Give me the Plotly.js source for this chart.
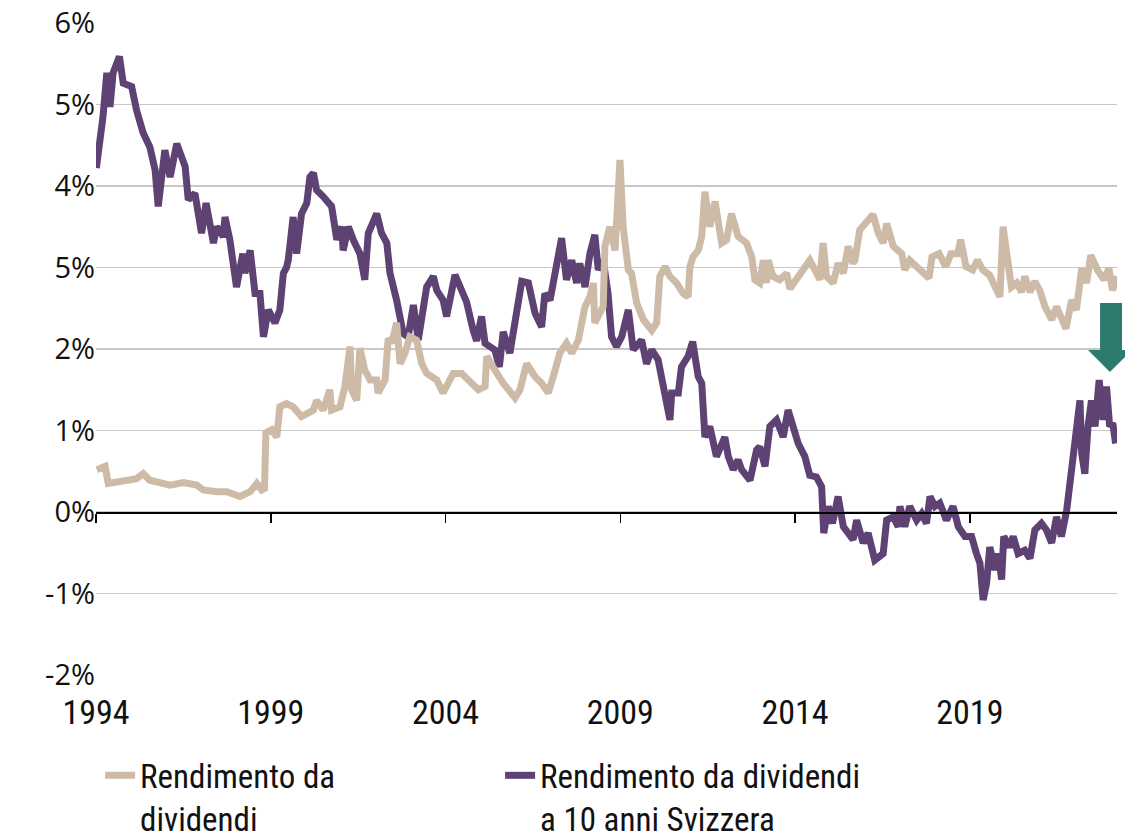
<!DOCTYPE html>
<html>
<head>
<meta charset="utf-8">
<script src="https://cdn.plot.ly/plotly-3.0.1.min.js"></script>
<style>
  html, body { margin: 0; padding: 0; background: #ffffff; }
  #chart { width: 1125px; height: 839px; }
</style>
</head>
<body>
<div id="chart"></div>
<script>
// ---- Data (decimal years, percent) ----
const bondYears = [1994.01,1994.09,1994.20,1994.31,1994.40,1994.49,1994.67,1994.78,1995.02,1995.16,1995.35,1995.54,1995.69,1995.78,1995.97,1996.12,1996.31,1996.55,1996.64,1996.83,1997.02,1997.15,1997.36,1997.45,1997.64,1997.69,1997.83,1998.02,1998.20,1998.26,1998.41,1998.55,1998.69,1998.79,1998.93,1999.12,1999.26,1999.36,1999.45,1999.50,1999.64,1999.74,1999.88,2000.03,2000.12,2000.22,2000.31,2000.50,2000.74,2000.89,2001.03,2001.07,2001.22,2001.36,2001.55,2001.69,2001.79,2002.03,2002.17,2002.32,2002.41,2002.60,2002.79,2002.93,2003.08,2003.22,2003.32,2003.46,2003.65,2003.75,2003.93,2004.03,2004.27,2004.41,2004.60,2004.79,2004.89,2005.03,2005.13,2005.27,2005.41,2005.54,2005.65,2005.84,2005.99,2006.18,2006.37,2006.56,2006.75,2006.84,2006.99,2007.13,2007.32,2007.46,2007.61,2007.75,2007.84,2007.99,2008.13,2008.27,2008.37,2008.51,2008.65,2008.75,2008.89,2009.04,2009.23,2009.37,2009.61,2009.75,2009.90,2010.08,2010.23,2010.42,2010.47,2010.66,2010.75,2010.94,2011.07,2011.23,2011.33,2011.42,2011.56,2011.75,2011.99,2012.09,2012.23,2012.37,2012.47,2012.71,2012.90,2012.99,2013.14,2013.28,2013.47,2013.66,2013.80,2013.95,2014.09,2014.28,2014.42,2014.61,2014.76,2014.82,2014.95,2015.07,2015.23,2015.38,2015.52,2015.66,2015.76,2015.95,2016.09,2016.28,2016.52,2016.62,2016.81,2016.95,2017.00,2017.14,2017.28,2017.48,2017.62,2017.76,2017.86,2018.00,2018.14,2018.33,2018.52,2018.67,2018.86,2019.05,2019.19,2019.29,2019.38,2019.48,2019.57,2019.72,2019.81,2019.91,2019.97,2020.14,2020.24,2020.38,2020.57,2020.72,2020.86,2021.05,2021.19,2021.34,2021.48,2021.62,2021.77,2021.86,2021.96,2022.05,2022.15,2022.20,2022.29,2022.38,2022.48,2022.58,2022.70,2022.81,2022.91,2023.00,2023.09,2023.17];
const bondYield = [4.22,4.48,4.85,5.39,4.97,5.39,5.59,5.26,5.22,4.93,4.65,4.48,4.20,3.75,4.44,4.11,4.52,4.24,3.83,3.91,3.42,3.79,3.30,3.50,3.38,3.62,3.34,2.76,3.17,2.93,3.21,2.68,2.68,2.15,2.48,2.32,2.48,2.93,3.00,3.09,3.62,3.17,3.66,3.79,4.11,4.16,3.95,3.87,3.75,3.34,3.50,3.21,3.50,3.34,3.17,2.85,3.42,3.66,3.42,3.30,2.93,2.60,2.19,2.15,2.54,2.11,2.36,2.76,2.89,2.72,2.60,2.40,2.91,2.76,2.58,2.23,2.10,2.40,2.07,2.03,1.99,1.78,2.21,1.95,2.40,2.83,2.81,2.44,2.27,2.68,2.60,2.89,3.36,2.85,3.09,2.81,3.05,2.76,3.17,3.40,2.97,3.09,2.68,2.15,2.03,2.15,2.48,1.99,2.11,1.82,1.99,1.87,1.50,1.13,1.46,1.46,1.78,1.91,2.09,1.66,1.58,0.92,1.05,0.68,0.92,0.68,0.52,0.64,0.52,0.39,0.76,0.80,0.56,1.05,1.13,0.92,1.25,1.05,0.84,0.68,0.45,0.43,0.31,-0.26,0.07,-0.14,0.19,-0.18,-0.26,-0.34,-0.10,-0.38,-0.26,-0.59,-0.51,-0.10,-0.06,-0.18,0.07,-0.18,0.07,-0.10,-0.02,-0.14,0.19,0.07,0.11,-0.10,0.07,-0.18,-0.30,-0.30,-0.51,-0.63,-1.08,-0.87,-0.43,-0.71,-0.51,-0.83,-0.30,-0.43,-0.30,-0.51,-0.47,-0.57,-0.22,-0.14,-0.22,-0.38,-0.06,-0.30,0.02,0.35,0.64,1.01,1.37,0.72,0.47,1.05,1.37,1.05,1.62,1.13,1.54,1.05,1.09,0.84];

const divYears = [1994.02,1994.26,1994.35,1994.78,1995.16,1995.35,1995.54,1996.12,1996.50,1996.88,1997.07,1997.45,1997.74,1998.12,1998.41,1998.60,1998.74,1998.82,1998.86,1999.03,1999.17,1999.26,1999.45,1999.64,1999.88,2000.22,2000.31,2000.50,2000.69,2000.74,2000.98,2001.12,2001.27,2001.31,2001.46,2001.55,2001.69,2001.84,2002.03,2002.07,2002.27,2002.36,2002.46,2002.60,2002.70,2002.84,2002.98,2003.17,2003.32,2003.46,2003.75,2003.93,2004.22,2004.46,2004.65,2004.94,2005.13,2005.18,2005.36,2005.65,2005.99,2006.13,2006.32,2006.56,2006.75,2006.94,2007.08,2007.27,2007.46,2007.61,2007.80,2007.99,2008.13,2008.23,2008.27,2008.42,2008.51,2008.56,2008.70,2008.85,2008.99,2009.08,2009.23,2009.32,2009.47,2009.66,2009.90,2010.04,2010.13,2010.28,2010.42,2010.61,2010.80,2010.94,2010.99,2011.08,2011.23,2011.33,2011.42,2011.56,2011.71,2011.90,2012.04,2012.18,2012.37,2012.61,2012.76,2012.85,2012.99,2013.09,2013.18,2013.23,2013.37,2013.56,2013.76,2013.85,2014.04,2014.23,2014.42,2014.57,2014.71,2014.80,2014.90,2015.09,2015.23,2015.38,2015.52,2015.66,2015.71,2015.85,2016.04,2016.23,2016.38,2016.52,2016.62,2016.81,2017.05,2017.14,2017.28,2017.48,2017.66,2017.83,2017.92,2018.12,2018.31,2018.46,2018.65,2018.74,2018.89,2019.08,2019.22,2019.37,2019.56,2019.74,2019.86,2019.95,2020.05,2020.19,2020.34,2020.48,2020.57,2020.72,2020.86,2021.00,2021.15,2021.34,2021.48,2021.62,2021.75,2021.91,2022.05,2022.20,2022.34,2022.46,2022.65,2022.84,2022.98,2023.08,2023.22];
const divYield = [0.52,0.56,0.35,0.39,0.41,0.47,0.39,0.33,0.36,0.33,0.27,0.25,0.25,0.19,0.25,0.35,0.27,0.29,0.97,1.01,0.92,1.29,1.33,1.29,1.17,1.25,1.37,1.25,1.50,1.25,1.29,1.54,2.03,1.50,1.37,2.01,1.74,1.62,1.62,1.46,1.62,2.13,2.07,2.32,1.82,1.95,2.15,2.11,1.82,1.70,1.62,1.46,1.70,1.70,1.62,1.50,1.54,1.91,1.78,1.58,1.40,1.50,1.82,1.66,1.58,1.46,1.66,1.95,2.07,1.95,2.11,2.52,2.64,2.81,2.32,2.44,2.52,3.26,3.50,3.21,4.32,3.50,2.97,2.93,2.56,2.36,2.23,2.32,2.89,3.01,2.89,2.81,2.68,2.64,3.01,3.13,3.21,3.38,3.93,3.50,3.81,3.30,3.34,3.66,3.38,3.30,3.13,2.85,2.81,3.09,2.81,3.09,2.89,2.85,2.93,2.74,2.85,2.97,3.09,2.97,2.85,3.30,2.89,2.81,3.05,2.93,3.26,3.05,3.09,3.46,3.54,3.65,3.42,3.30,3.54,3.26,3.17,2.97,3.09,3.01,2.95,2.87,3.13,3.17,3.01,3.17,3.17,3.34,3.01,2.97,3.09,2.97,2.91,2.76,2.64,3.50,3.13,2.76,2.81,2.70,2.89,2.70,2.83,2.72,2.52,2.36,2.52,2.36,2.25,2.60,2.48,2.99,2.81,3.15,2.97,2.85,2.99,2.72,2.89];

const yearTicks = [1994, 1999, 2004, 2009, 2014, 2019];
const yearTickLabels = ['1994', '1999', '2004', '2009', '2014', '2019'];
const yTicks = [-2, -1, 0, 1, 2, 3, 4, 5, 6];
const yTickLabels = ['-2%', '-1%', '0%', '1%', '2%', '5%', '4%', '5%', '6%'];

const seriesNames = ['Rendimento da<br>dividendi', 'Rendimento da dividendi<br>a 10 anni Svizzera'];

const TAN = '#CDBBA8';
const PURPLE = '#5E4274';
const GREEN = '#2C7B6E';
const narrow = '"Liberation Sans Narrow", "Roboto Condensed", "DejaVu Sans Condensed", Arial, sans-serif';
const regular = '"Open Sans", "Noto Sans", Arial, sans-serif';
const xRange = [1994, 2023.21];

const traces = [
  {
    type: 'scatter', mode: 'lines', name: seriesNames[1],
    x: bondYears, y: bondYield,
    line: { color: PURPLE, width: 7 },
    legendrank: 2, hoverinfo: 'skip'
  },
  {
    type: 'scatter', mode: 'lines', name: seriesNames[0],
    x: divYears, y: divYield,
    line: { color: TAN, width: 7 },
    legendrank: 1, hoverinfo: 'skip'
  },
  {
    type: 'scatter', mode: 'lines', x: [], y: [], xaxis: 'x2',
    showlegend: false, hoverinfo: 'skip'
  }
];

const layout = {
  width: 1125, height: 839,
  margin: { l: 96, r: 8, t: 23, b: 164, autoexpand: false },
  paper_bgcolor: '#ffffff', plot_bgcolor: '#ffffff',
  showlegend: true,
  legend: {
    orientation: 'h', x: 0.004, xanchor: 'left', y: -0.111, yanchor: 'top',
    font: { family: narrow, size: 33, color: '#111111' },
    entrywidth: 355, entrywidthmode: 'pixels',
    valign: 'top', itemwidth: 30, tracegroupgap: 0
  },
  xaxis: {
    range: xRange, tickvals: yearTicks, ticktext: yearTickLabels,
    showgrid: false, zeroline: false, showline: false, ticks: '',
    tickfont: { family: narrow, size: 34, color: '#111111' },
    ticklabelstandoff: 14
  },
  xaxis2: {
    overlaying: 'x', anchor: 'free', position: 0.25,
    range: xRange, tickvals: yearTicks,
    showgrid: false, zeroline: false, showline: true,
    linecolor: '#000000', linewidth: 1.5,
    ticks: 'outside', ticklen: 9, tickwidth: 1.5, tickcolor: '#000000',
    showticklabels: false
  },
  yaxis: {
    range: [-2, 6], tickvals: yTicks, ticktext: yTickLabels,
    showgrid: true, gridcolor: '#C8C8C8', gridwidth: 1.5,
    zeroline: false, showline: false, ticks: '',
    tickfont: { family: regular, size: 29, color: '#111111' }
  },
  shapes: [
    {
      type: 'path', xref: 'paper', yref: 'paper',
      path: 'M 0.9834 0.5706 L 1.0049 0.5706 L 1.0049 0.4985 L 1.0147 0.4985 L 0.9931 0.4647 L 0.9716 0.4985 L 0.9834 0.4985 Z',
      fillcolor: GREEN, line: { width: 0 }, layer: 'above'
    }
  ]
};

Plotly.newPlot('chart', traces, layout, { staticPlot: true, displayModeBar: false });
</script>
</body>
</html>
